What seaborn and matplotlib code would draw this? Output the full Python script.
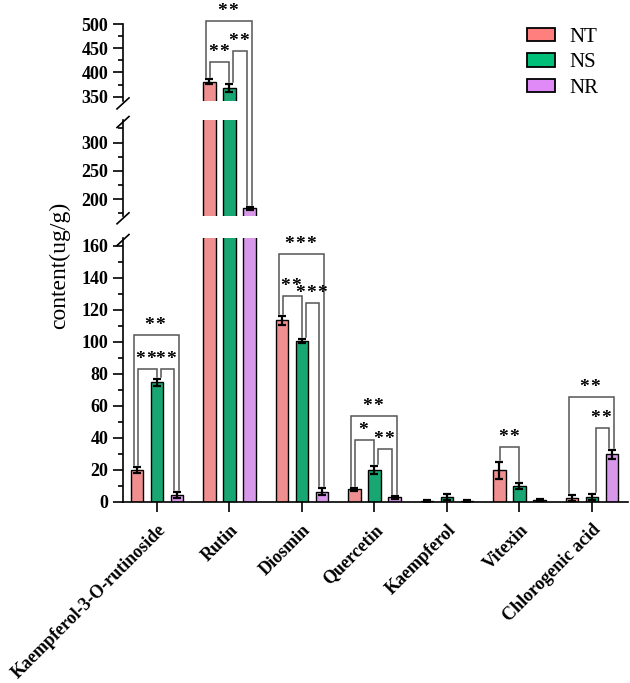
import numpy as np
import pandas as pd
import matplotlib
matplotlib.use("Agg")
import matplotlib.pyplot as plt
from matplotlib.lines import Line2D
from matplotlib.patches import Patch
from matplotlib.container import BarContainer
from matplotlib.ticker import MultipleLocator
import seaborn as sns

# ---------------- data ----------------
compounds = ["Kaempferol-3-O-rutinoside", "Rutin", "Diosmin", "Quercetin",
             "Kaempferol", "Vitexin", "Chlorogenic acid"]
groups = ["NT", "NS", "NR"]
nt_vals = [19.8, 381, 113.5, 7.8, 0.6, 19.6, 2.5]
ns_vals = [74.8, 368.5, 100.5, 19.8, 3.0, 9.8, 3.0]
nr_vals = [4.2, 184, 6.3, 2.8, 0.6, 1.0, 29.7]
nt_err = [2.0, 5.0, 3.0, 0.8, 0.5, 5.2, 1.9]
ns_err = [2.2, 8.5, 1.5, 2.6, 1.9, 1.8, 1.9]
nr_err = [2.0, 3.0, 2.3, 1.0, 0.5, 0.5, 2.8]
colors = ["#FF7F7F", "#00BF78", "#E08AF8"]

# significance brackets: category, left group, right group, height, label
br_cat = [0, 0, 0, 1, 1, 1, 2, 2, 2, 3, 3, 3, 5, 6, 6]
br_left = [0, 0, 1, 0, 0, 1, 0, 0, 1, 0, 0, 1, 0, 0, 1]
br_right = [2, 1, 2, 2, 1, 2, 2, 1, 2, 2, 1, 2, 1, 2, 2]
br_y = [104.3, 83, 83, 507.5, 422, 444.6, 154.8, 128.7, 124.2,
        53.6, 38.4, 32.8, 34.2, 65.7, 46.3]
br_label = ["**", "**", "**", "**", "**", "**", "***", "**", "***",
            "**", "*", "**", "**", "**", "**"]

vals = [nt_vals, ns_vals, nr_vals]
errs = [nt_err, ns_err, nr_err]
df = pd.DataFrame({
    "compound": np.repeat([compounds], 3, axis=0).ravel(),
    "group": np.repeat(groups, len(compounds)),
    "content": np.concatenate(vals),
})

# ---------------- figure ----------------
plt.rcParams["font.family"] = ["Liberation Serif", "DejaVu Serif"]
W, H = 630, 683
fig = plt.figure(figsize=(W / 100, H / 100), dpi=100)

left = 123 / W
width = 505 / W
def frac(y_top, y_bot):
    return [left, 1 - y_bot / H, width, (y_bot - y_top) / H]

ax_top = fig.add_axes(frac(24.3, 101.4))
ax_mid = fig.add_axes(frac(120.0, 216.3))
ax_bot = fig.add_axes(frac(238.0, 501.7))
axes = [ax_top, ax_mid, ax_bot]
ylims = [(340, 500), (170, 340), (0, 165)]
majors = [50, 50, 20]
minors = [25, 25, 10]

for ax, yl, mj, mn in zip(axes, ylims, majors, minors):
    sns.barplot(data=df, x="compound", y="content", hue="group",
                order=compounds, hue_order=groups, palette=colors,
                width=0.83, gap=0.375, edgecolor="black", linewidth=1.0,
                errorbar=None, legend=False, ax=ax)
    bar_conts = [c for c in ax.containers if isinstance(c, BarContainer)]
    for i, cont in enumerate(bar_conts):
        xs = [b.get_x() + b.get_width() / 2 for b in cont]
        ax.errorbar(xs, vals[i], yerr=errs[i], fmt="none", ecolor="black",
                    elinewidth=1.6, capsize=2.8, capthick=1.6, zorder=5)
    ax.set_ylim(*yl)
    ax.set_xlim(-0.469, 6.497)
    ax.yaxis.set_major_locator(MultipleLocator(mj))
    ax.yaxis.set_minor_locator(MultipleLocator(mn))
    ax.set_xlabel("")
    ax.set_ylabel("")
    for s in ["top", "right"]:
        ax.spines[s].set_visible(False)
    ax.spines["left"].set_linewidth(1.2)
    ax.tick_params(axis="y", which="major", length=7, width=1.2, pad=3.5,
                   labelsize=13)
    ax.tick_params(axis="y", which="minor", length=3.6, width=1.2)
    ax.patch.set_alpha(0)

ax_top.set_yticks([350, 400, 450, 500])
ax_mid.set_yticks([200, 250, 300])
for ax in (ax_top, ax_mid):
    ax.spines["bottom"].set_visible(False)
    ax.set_xticks([])

ax_bot.spines["bottom"].set_linewidth(1.2)
ax_bot.tick_params(axis="x", length=7, width=1.2, pad=7, labelsize=13)
ax_bot.set_xticks(range(len(compounds)))
ax_bot.set_xticklabels(compounds, rotation=45, ha="right", va="top",
                       rotation_mode="anchor", fontweight="bold")
for ax in axes:
    for lab in ax.get_yticklabels():
        lab.set_fontweight("bold")

fig.text(60 / W, 1 - 265 / H, "content(ug/g)", rotation=90, ha="center",
         va="center", fontsize=17)

# ---------------- helpers in display (pixel) space ----------------
to_fig = fig.transFigure.inverted()

def ax_for(v):
    if v <= 165:
        return ax_bot
    if v <= 340:
        return ax_mid
    return ax_top

def disp(x, v):
    return ax_for(v).transData.transform((x, v))

def fig_line(xs, ys, **kw):
    pts = to_fig.transform(np.column_stack([xs, ys]))
    fig.add_artist(Line2D(pts[:, 0], pts[:, 1], **kw))

# broken axis slashes
for ax, where in [(ax_top, "bottom"), (ax_mid, "top"), (ax_mid, "bottom"),
                  (ax_bot, "top")]:
    yl = ax.get_ylim()
    v = yl[0] if where == "bottom" else yl[1]
    x0, y0 = ax.transData.transform((ax.get_xlim()[0], v))
    y0 = y0 - 2
    fig_line([x0 - 6, x0 + 6], [y0 - 5.5, y0 + 5.5], color="black", lw=1.2)

# bar centres (category x + dodge) from seaborn containers
centres = [[b.get_x() + b.get_width() / 2 for b in cont]
           for cont in ax_bot.containers if isinstance(cont, BarContainer)]

star_step = 11.0  # px between asterisk centres
for c, gl, gr, h, lab in zip(br_cat, br_left, br_right, br_y, br_label):
    if gl == 0 and gr == 2:
        offl, offr = -3, 2
    elif gl == 0:
        offl, offr = 1, 0
    else:
        offl, offr = 4, -3
    xl = centres[gl][c]
    xr = centres[gr][c]
    pxl, pyt = disp(xl, h)
    pxr, _ = disp(xr, h)
    pxl += offl
    pxr += offr
    _, pyl = disp(xl, vals[gl][c] + errs[gl][c])
    _, pyr = disp(xr, vals[gr][c] + errs[gr][c])
    fig_line([pxl, pxl, pxr, pxr], [pyl + 2, pyt, pyt, pyr + 2],
             color="#555555", lw=1.1, solid_joinstyle="miter")
    n = len(lab)
    cx = (pxl + pxr) / 2 - 1.5
    for k in range(n):
        sx = cx + (k - (n - 1) / 2) * star_step
        tx, ty = to_fig.transform((sx, pyt + 5.0))
        fig.text(tx, ty, "*", ha="center", va="baseline", fontsize=14,
                 fontweight="bold", color="black")

# legend
handles = [Patch(facecolor=col, edgecolor="black", linewidth=1.3)
           for col in colors]
fig.legend(handles, groups, loc="upper left",
           bbox_to_anchor=(527 / W, 1 - 27.5 / H), frameon=False,
           fontsize=15, handlelength=1.35, handleheight=0.65,
           handletextpad=0.7, labelspacing=0.3, borderpad=0,
           borderaxespad=0)

fig.savefig("out.png", dpi=100)
